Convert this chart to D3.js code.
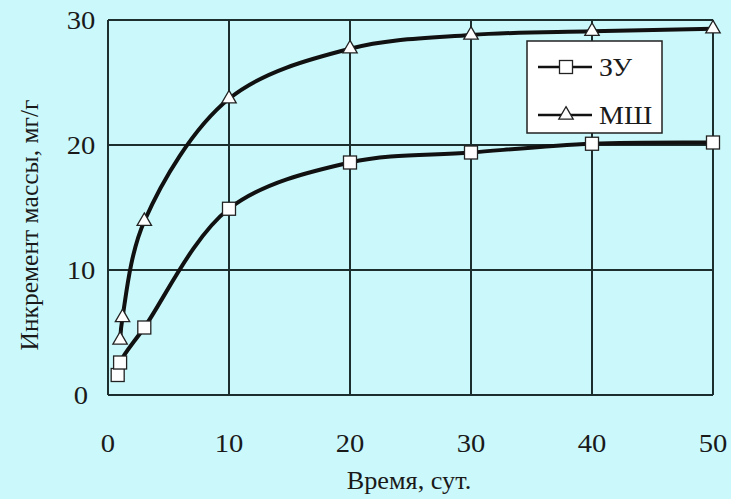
<!DOCTYPE html>
<html>
<head>
<meta charset="utf-8">
<script src="https://cdn.jsdelivr.net/npm/d3@7"></script>
<style>
  body { margin: 0; background: #cbf9fb; }
</style>
</head>
<body>
<script>
// data
const zuDays = [0.8, 1, 3, 10, 20, 30, 40, 50];
const zuMass = [1.6, 2.6, 5.4, 14.9, 18.6, 19.4, 20.1, 20.2];
const mshDays = [1, 1.2, 3, 10, 20, 30, 40, 50];
const mshMass = [4.4, 6.2, 13.9, 23.7, 27.7, 28.8, 29.1, 29.3];
const xTicks = [0, 10, 20, 30, 40, 50];
const yTicks = [0, 10, 20, 30];
const seriesNames = ["ЗУ", "МШ"];

const width = 731, height = 499;
const plotLeft = 108, plotRight = 713, plotTop = 20, plotBottom = 395;
const serif = "'Liberation Serif', 'DejaVu Serif', 'Times New Roman', serif";

const svg = d3.select("body").append("svg")
  .attr("width", width).attr("height", height)
  .attr("font-family", serif);

svg.append("rect").attr("width", width).attr("height", height).attr("fill", "#cbf9fb");

const x = d3.scaleLinear().domain([0, 50]).range([plotLeft, plotRight]);
const y = d3.scaleLinear().domain([0, 30]).range([plotBottom, plotTop]);

//grid
const gridColor = "#1c2e2e";
xTicks.forEach(t => {
  svg.append("line")
    .attr("x1", x(t)).attr("x2", x(t))
    .attr("y1", plotTop).attr("y2", plotBottom)
    .attr("stroke", gridColor).attr("stroke-width", 2);
});
yTicks.forEach(t => {
  svg.append("line")
    .attr("x1", plotLeft).attr("x2", plotRight)
    .attr("y1", y(t)).attr("y2", y(t))
    .attr("stroke", gridColor).attr("stroke-width", 2);
});

//tick labels (text a bit wider than plain Times, like the scan)
xTicks.forEach(t => {
  svg.append("text").text(t)
    .attr("transform", `translate(${x(t)},452) scale(1.1,1)`)
    .attr("text-anchor", "middle")
    .attr("fill", "#1a1a1a")
    .style("font-size", "26px");
});
yTicks.forEach(t => {
  svg.append("text").text(t)
    .attr("transform", `translate(81,${y(t) + 9}) scale(1.1,1)`)
    .attr("text-anchor", "middle")
    .attr("fill", "#1a1a1a")
    .style("font-size", "26px");
});

//axis titles
svg.append("text").text("Время, сут.")
  .attr("transform", "translate(409,489) scale(1.05,1)")
  .attr("text-anchor", "middle")
  .attr("fill", "#1a1a1a")
  .style("font-size", "25px");
svg.append("text").text("Инкремент массы, мг/г")
  .attr("transform", "translate(38,225) rotate(-90)")
  .attr("text-anchor", "middle")
  .attr("fill", "#1a1a1a")
  .style("font-size", "25.5px");

//curves
const line = d3.line().curve(d3.curveCatmullRom.alpha(0.5));
const zuPts = zuDays.map((d, i) => [x(d), y(zuMass[i])]);
const mshPts = mshDays.map((d, i) => [x(d), y(mshMass[i])]);
[zuPts, mshPts].forEach(pts => {
  svg.append("path").attr("d", line(pts))
    .attr("fill", "none").attr("stroke", "#111").attr("stroke-width", 4);
});

//markers
const sq = 13;
function square(cx, cy) {
  svg.append("rect")
    .attr("x", cx - sq / 2).attr("y", cy - sq / 2)
    .attr("width", sq).attr("height", sq)
    .attr("fill", "#fff").attr("stroke", "#222").attr("stroke-width", 1.3);
}
function triangle(cx, cy) {
  svg.append("path")
    .attr("d", d3.symbol().type(d3.symbolTriangle).size(90)())
    .attr("transform", `translate(${cx},${cy})`)
    .attr("fill", "#fff").attr("stroke", "#222").attr("stroke-width", 1.3);
}
zuPts.forEach(p => square(p[0], p[1]));
mshPts.forEach(p => triangle(p[0], p[1]));

//legend
svg.append("rect")
  .attr("x", 527).attr("y", 41).attr("width", 135).attr("height", 92)
  .attr("fill", "#fff").attr("stroke", "#222").attr("stroke-width", 1.5);
seriesNames.forEach((name, i) => {
  const ly = 67 + i * 48;
  svg.append("line")
    .attr("x1", 538).attr("x2", 592).attr("y1", ly).attr("y2", ly)
    .attr("stroke", "#111").attr("stroke-width", 2.5);
  if (i === 0) square(566, ly); else triangle(566, ly);
  svg.append("text").text(name)
    .attr("transform", `translate(599,${ly + 9}) scale(1.12,1)`)
    .attr("fill", "#1a1a1a")
    .style("font-size", "25px");
});
</script>
</body>
</html>
